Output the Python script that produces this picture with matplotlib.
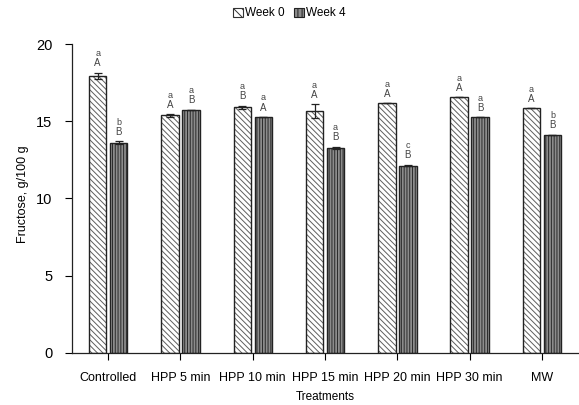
import matplotlib.pyplot as plt
from matplotlib.patches import Patch
import numpy as np

plt.rcParams['font.family'] = ['Liberation Sans', 'DejaVu Sans']
plt.rcParams['hatch.linewidth'] = 0.7

treatments = ['Controlled', 'HPP 5 min', 'HPP 10 min', 'HPP 15 min',
              'HPP 20 min', 'HPP 30 min', 'MW']
week0 = [17.93, 15.38, 15.90, 15.64, 16.16, 16.55, 15.84]
week4 = [13.61, 15.73, 15.27, 13.27, 12.12, 15.25, 14.11]
err0 = [0.22, 0.08, 0.12, 0.45, 0.0, 0.0, 0.0]
err4 = [0.10, 0.0, 0.0, 0.06, 0.04, 0.0, 0.0]
lower0 = ['a', 'a', 'a', 'a', 'a', 'a', 'a']
upper0 = ['A', 'A', 'B', 'A', 'A', 'A', 'A']
lower4 = ['b', 'a', 'a', 'a', 'c', 'a', 'b']
upper4 = ['B', 'B', 'A', 'B', 'B', 'B', 'B']

fig = plt.figure(figsize=(5.79, 4.05), dpi=100)
ax = fig.add_axes([0.1244, 0.129, 0.874, 0.762])

x = np.arange(len(treatments))
w = 0.24
off = 0.145

# hatched fill (hatch takes the edge colour), then a dark outline on top
ax.bar(x - off, week0, w, color='white', edgecolor='#5e5e5e',
       hatch='\\\\\\\\\\\\', linewidth=0)
ax.bar(x - off, week0, w, fill=False, edgecolor='#222222', linewidth=1.0)
ax.bar(x + off, week4, w, color='#8c8c8c', edgecolor='#2a2a2a',
       hatch='||||||', linewidth=0)
ax.bar(x + off, week4, w, fill=False, edgecolor='#222222', linewidth=1.0)

ax.errorbar(x - off, week0, yerr=err0, fmt='none', ecolor='#222222',
            elinewidth=0.9, capsize=3, capthick=0.9)
ax.errorbar(x + off, week4, yerr=err4, fmt='none', ecolor='#222222',
            elinewidth=0.9, capsize=3, capthick=0.9)

for i in range(len(treatments)):
    for xi, v, e, lo, up in [(x[i] - off, week0[i], err0[i], lower0[i], upper0[i]),
                             (x[i] + off, week4[i], err4[i], lower4[i], upper4[i])]:
        ax.text(xi, v + e + 0.3, up, ha='center', va='bottom', fontsize=7,
                color='#444444')
        ax.text(xi, v + e + 0.95, lo, ha='center', va='bottom', fontsize=6.5,
                color='#444444')

ax.set_xlim(-0.5, 6.5)
ax.set_ylim(0, 20)
ax.set_yticks([0, 5, 10, 15, 20])
ax.set_xticks(x)
ax.set_xticklabels(treatments, fontsize=9)
ax.tick_params(axis='y', labelsize=10.5, length=5, width=0.8, pad=9)
ax.tick_params(axis='x', length=5, width=0.8, pad=9)
for s in ['top', 'right']:
    ax.spines[s].set_visible(False)
for s in ['left', 'bottom']:
    ax.spines[s].set_linewidth(0.9)
    ax.spines[s].set_color('#222222')

ax.set_xlabel('Treatments', fontsize=8.5, labelpad=5)
ax.set_ylabel('Fructose, g/100 g', fontsize=9)
ax.yaxis.set_label_coords(-0.085, 0.515)

handles = [Patch(facecolor='white', edgecolor='#333333', hatch='\\\\\\\\',
                 linewidth=0.8, label='Week 0'),
           Patch(facecolor='#8c8c8c', edgecolor='#222222', hatch='||||',
                 linewidth=0.8, label='Week 4')]
fig.legend(handles=handles, loc='upper center', bbox_to_anchor=(0.5, 1.008),
           ncol=2, frameon=False, fontsize=8.5, handlelength=0.8,
           handleheight=0.8, handletextpad=0.2, columnspacing=0.8)

plt.savefig('out.png', dpi=100)
